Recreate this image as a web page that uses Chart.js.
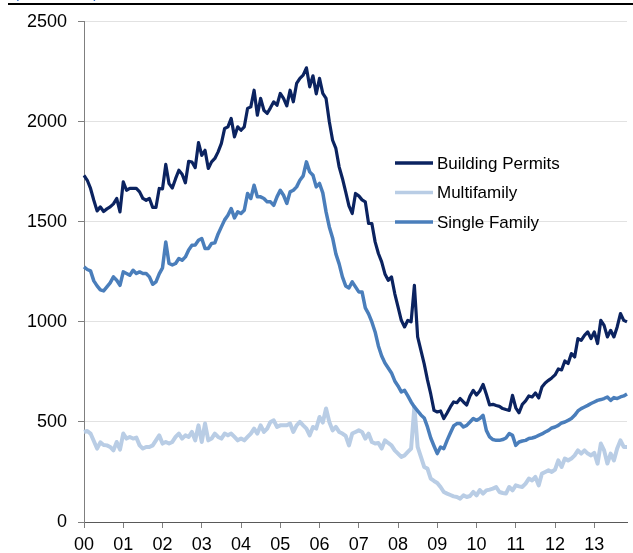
<!DOCTYPE html>
<html>
<head>
<meta charset="utf-8">
<script src="https://cdn.jsdelivr.net/npm/chart.js@4.4.1/dist/chart.umd.min.js"></script>
<style>
    body { margin: 0; background: #fff; }
    #wrap { position: relative; width: 633px; height: 553px; overflow: hidden; }
    #unit { position: absolute; left: 14px; top: -16px; font: 15px "Liberation Sans", Arial, sans-serif; line-height: 18px; color: #1f5fbf; }
    #rule { position: absolute; left: 8px; top: 3px; width: 625px; height: 2px; background: #000; }
    canvas { position: absolute; left: 0; top: 0; }
</style>
</head>
<body>
<div id="wrap">
    <canvas id="permitsChart" width="633" height="553"></canvas>
    <div id="unit">(Thousands)</div>
    <div id="rule"></div>
</div>
<script>
// monthly, Jan 2000 .. Nov 2013 (thousands, SAAR)
const yearLabels = ["00", "01", "02", "03", "04", "05", "06", "07", "08", "09", "10", "11", "12", "13"];

const buildingPermits = [
    1733, 1708, 1667, 1608, 1555, 1575, 1552, 1565, 1575, 1590, 1617, 1550,
    1700, 1658, 1667, 1667, 1667, 1650, 1617, 1608, 1617, 1572, 1572, 1667,
    1665, 1787, 1691, 1669, 1716, 1758, 1738, 1695, 1803, 1799, 1771, 1896,
    1833, 1858, 1767, 1800, 1817, 1850, 1892, 1967, 1975, 2017, 1925, 1975,
    1958, 1975, 2067, 2075, 2158, 2033, 2117, 2058, 2042, 2070, 2100, 2083,
    2142, 2117, 2080, 2158, 2100, 2192, 2217, 2233, 2270, 2175, 2230, 2140,
    2217, 2142, 2117, 2000, 1908, 1867, 1775, 1717, 1650, 1580, 1542, 1642,
    1630, 1610, 1600, 1492, 1492, 1400, 1342, 1300, 1240, 1208, 1225, 1142,
    1075, 1008, 975, 1008, 1000, 1183, 925, 858, 790, 710, 640, 558,
    550, 555, 517, 545, 575, 600, 596, 617, 600, 585, 630, 658,
    635, 655, 688, 638, 585, 588, 582, 578, 567, 562, 558, 633,
    571, 546, 588, 605, 630, 625, 645, 620, 675, 695, 708, 720,
    735, 765, 760, 805, 792, 842, 825, 917, 908, 933, 950, 917,
    950, 892, 1008, 983, 925, 958, 925, 975, 1042, 1008, 1000
];

const multifamily = [
    450, 455, 442, 405, 367, 398, 385, 383, 375, 358, 400, 362,
    442, 417, 425, 417, 422, 383, 367, 375, 375, 383, 408, 433,
    392, 400, 392, 400, 425, 442, 417, 433, 425, 450, 408, 483,
    400, 492, 408, 417, 442, 425, 417, 442, 433, 442, 425, 408,
    417, 408, 425, 442, 467, 442, 483, 450, 467, 500, 508, 475,
    483, 483, 483, 492, 450, 483, 500, 483, 467, 433, 475, 467,
    525, 497, 567, 500, 458, 475, 450, 442, 430, 383, 442, 450,
    458, 450, 417, 442, 400, 392, 395, 367, 408, 395, 383, 358,
    342, 325, 333, 350, 367, 575, 375, 325, 275, 267, 217, 205,
    195, 175, 150, 142, 135, 128, 125, 117, 133, 125, 130, 150,
    133, 160, 142, 158, 162, 167, 175, 150, 145, 142, 175, 158,
    183, 178, 175, 192, 217, 208, 225, 183, 242, 250, 258, 250,
    262, 308, 275, 317, 308, 317, 333, 358, 342, 358, 342, 333,
    345, 292, 392, 358, 292, 342, 308, 367, 408, 375, 375
];

const singleFamily = [
    1275, 1262, 1255, 1205, 1180, 1160, 1155, 1175, 1195, 1225, 1208, 1183,
    1250, 1242, 1233, 1258, 1242, 1250, 1242, 1242, 1225, 1188, 1200, 1240,
    1270, 1400, 1292, 1285, 1292, 1317, 1308, 1325, 1360, 1383, 1385, 1408,
    1417, 1367, 1367, 1392, 1395, 1440, 1475, 1510, 1533, 1567, 1520, 1550,
    1542, 1558, 1642, 1617, 1683, 1625, 1625, 1617, 1600, 1600, 1583, 1625,
    1658, 1633, 1592, 1650, 1658, 1675, 1708, 1730, 1800, 1750, 1733, 1675,
    1692, 1645, 1550, 1475, 1420, 1340, 1290, 1225, 1180, 1170, 1200, 1175,
    1150, 1150, 1070, 1040, 1000, 950, 880, 830, 795, 770, 745, 705,
    680, 650, 658, 630, 600, 575, 555, 535, 520, 475, 420, 380,
    342, 375, 367, 408, 445, 480, 492, 492, 475, 483, 500, 517,
    508, 517, 533, 458, 425, 412, 408, 408, 412, 420, 442, 433,
    383, 400, 405, 408, 417, 420, 425, 433, 440, 450, 458, 470,
    475, 483, 495, 500, 508, 517, 533, 555, 567, 575, 583, 592,
    600, 608, 612, 617, 625, 608, 622, 617, 625, 630, 640
];

const months = buildingPermits.map((v, i) => yearLabels[Math.floor(i / 12)] + "-" + (i % 12 + 1));

const FONT = '"Liberation Sans", Arial, sans-serif';

// legend drawn inside the plot, as in the original
const insideLegend = {
    id: "insideLegend",
    afterDraw(chart) {
        const ctx = chart.ctx;
        ctx.save();
        ctx.font = "17px " + FONT;
        ctx.textBaseline = "middle";
        chart.data.datasets.forEach((ds, k) => {
            const y = 163 + k * 29.5;
            ctx.strokeStyle = ds.borderColor;
            ctx.lineWidth = 3.5;
            ctx.beginPath();
            ctx.moveTo(395, y);
            ctx.lineTo(433, y);
            ctx.stroke();
            ctx.fillStyle = "#000";
            ctx.fillText(ds.label, 437, y + 1);
        });
        ctx.restore();
    }
};

new Chart(document.getElementById("permitsChart"), {
    type: "line",
    data: {
        labels: months,
        datasets: [
            { label: "Building Permits", data: buildingPermits, borderColor: "#0b2360", borderWidth: 3.2, order: 3 },
            { label: "Multifamily", data: multifamily, borderColor: "#b9cde5", borderWidth: 4, order: 2 },
            { label: "Single Family", data: singleFamily, borderColor: "#4a7ebb", borderWidth: 3.5, order: 1 }
        ]
    },
    options: {
        responsive: false,
        animation: false,
        devicePixelRatio: 1,
        layout: { padding: { top: 20, right: 6, left: 0, bottom: 0 } },
        elements: { point: { radius: 0 }, line: { tension: 0, borderJoinStyle: "round" } },
        plugins: { legend: { display: false }, tooltip: { enabled: false } },
        scales: {
            x: {
                offset: false,
                grid: { drawOnChartArea: false, tickColor: "#7f7f7f", tickLength: 6 },
                border: { color: "#595959", width: 1 },
                ticks: {
                    autoSkip: false,
                    maxRotation: 0,
                    padding: 6,
                    color: "#000",
                    font: { family: FONT, size: 18 },
                    callback: (v, i) => (i % 12 === 0 ? yearLabels[i / 12] : null)
                },
                afterFit: s => { s.height = 31; }
            },
            y: {
                min: 0,
                max: 2500,
                grid: { color: "#e2e2e2", tickColor: "#7f7f7f", tickLength: 6 },
                border: { color: "#7f7f7f", width: 1 },
                ticks: {
                    stepSize: 500,
                    padding: 11,
                    color: "#000",
                    font: { family: FONT, size: 18 },
                    callback: v => String(v)
                },
                afterFit: s => { s.width = 84; }
            }
        }
    },
    plugins: [insideLegend]
});
</script>
</body>
</html>
